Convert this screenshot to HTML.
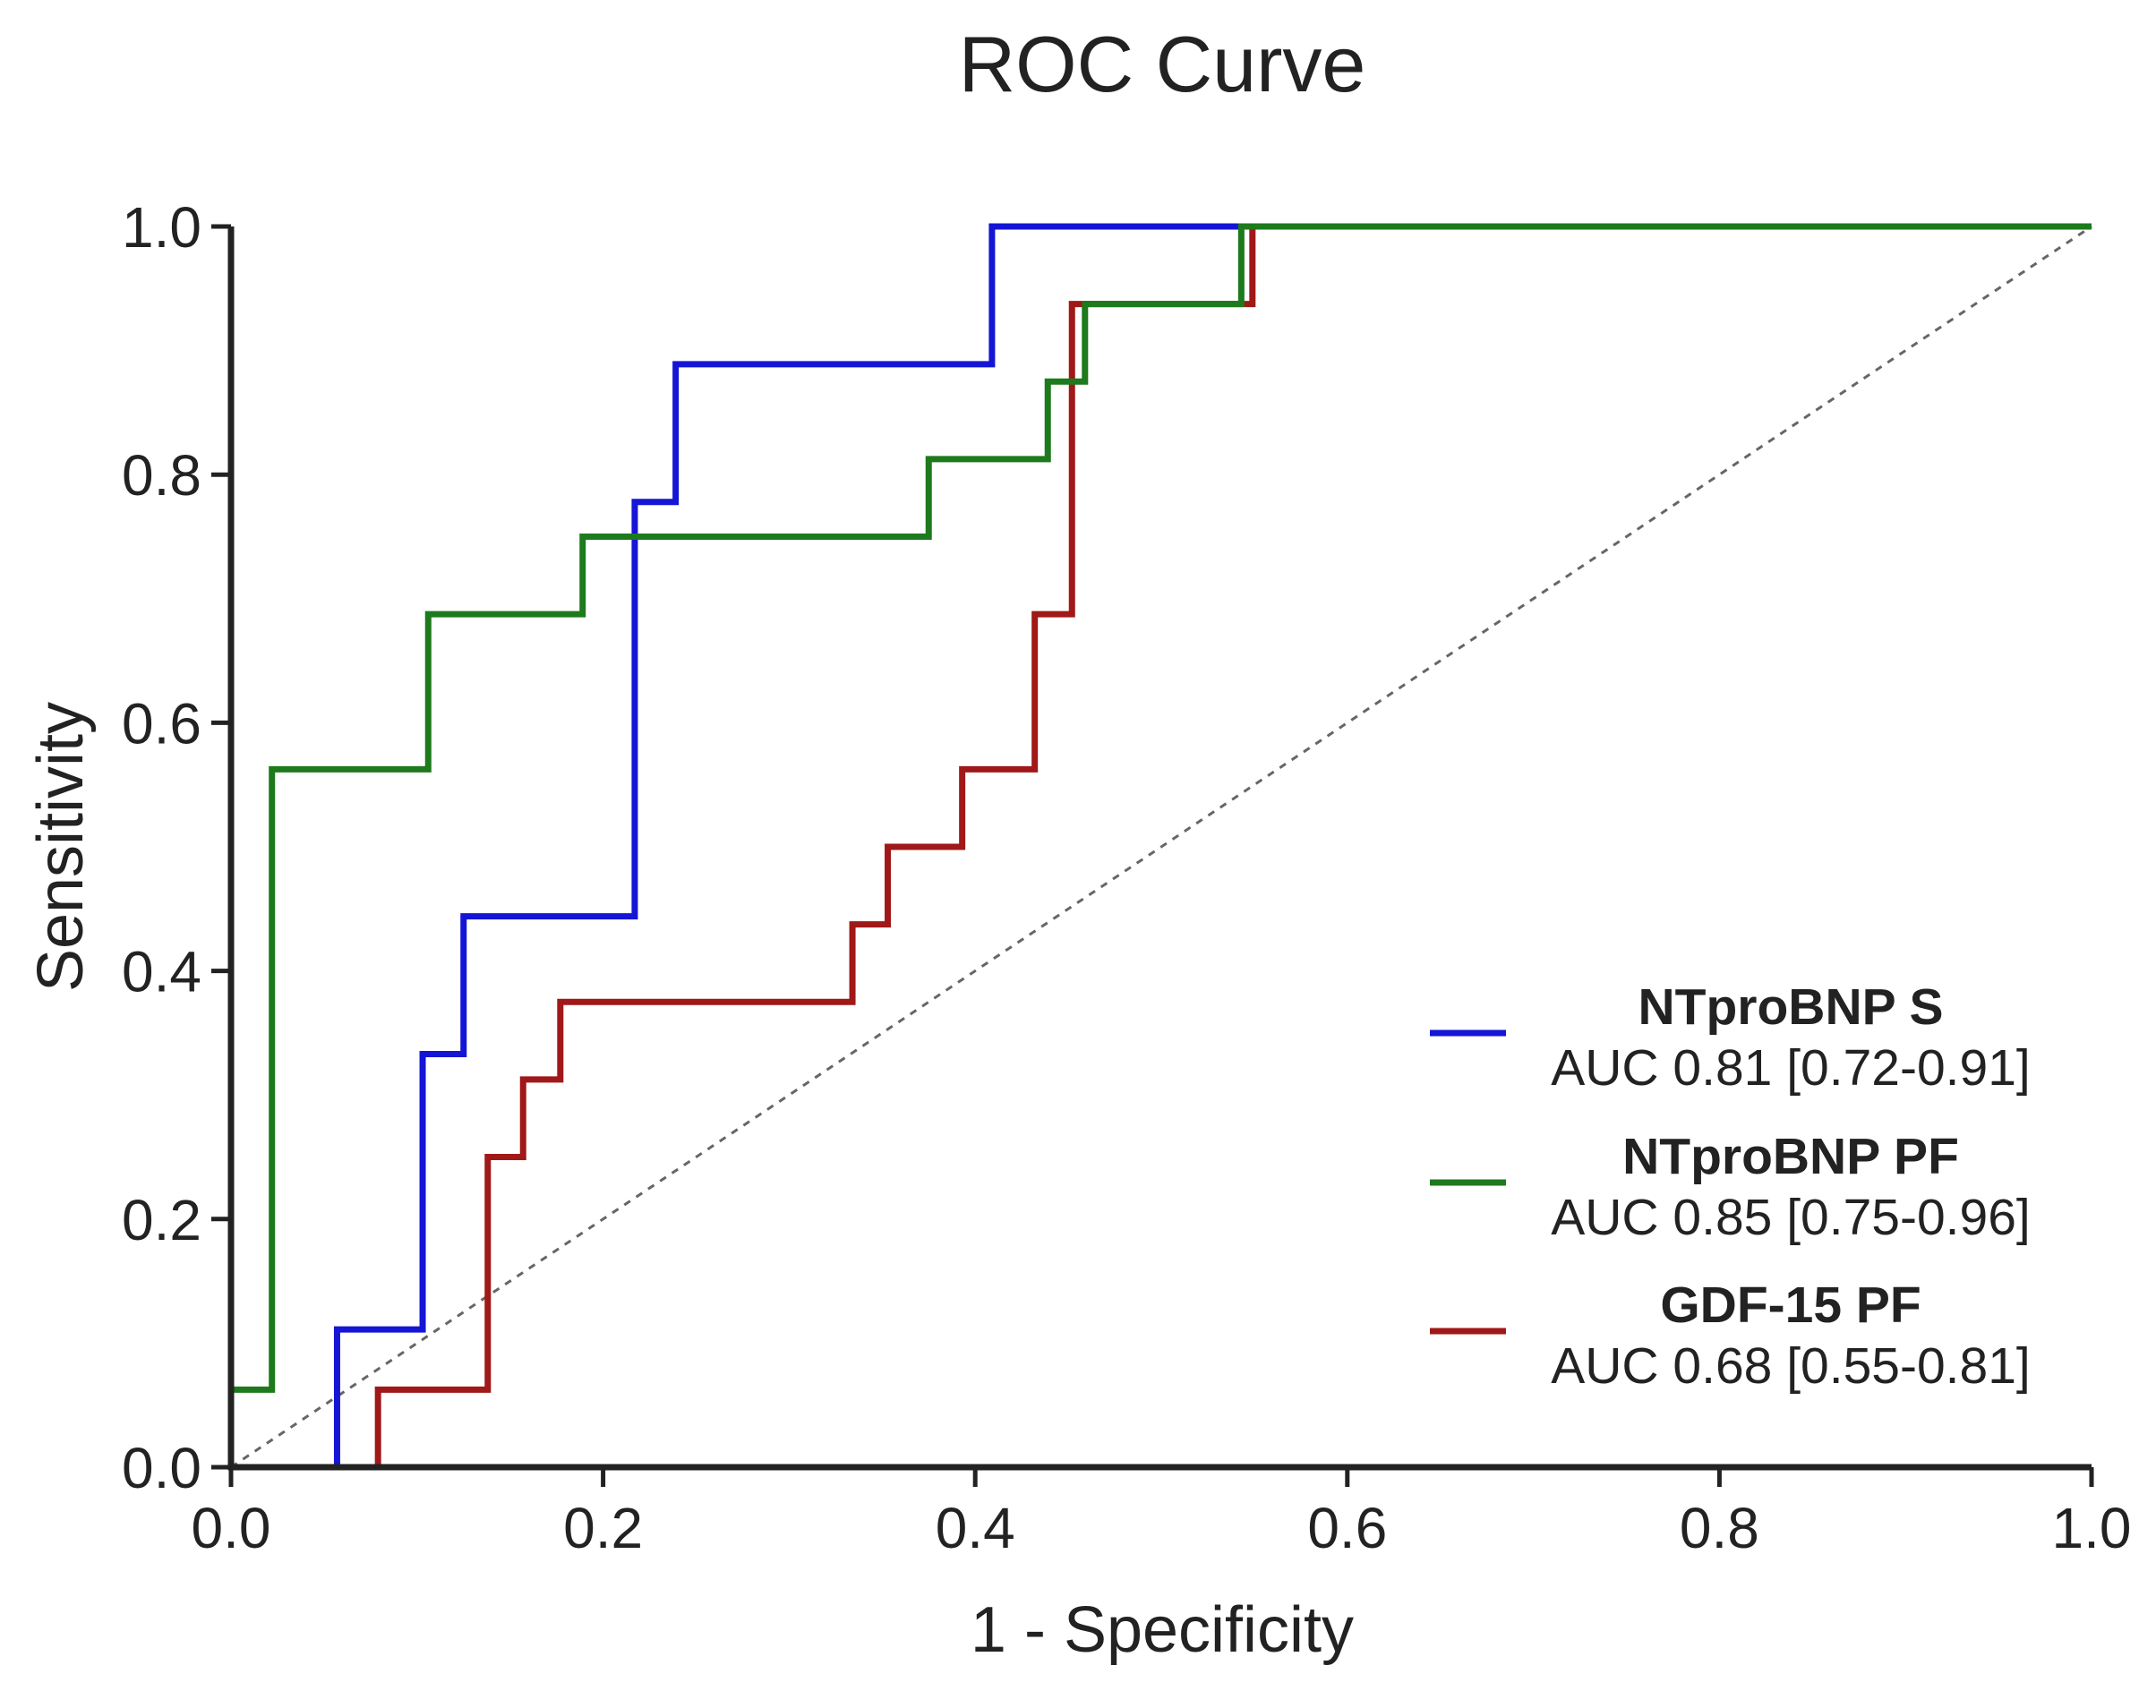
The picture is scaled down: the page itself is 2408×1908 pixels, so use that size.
<!DOCTYPE html>
<html><head><meta charset="utf-8"><style>
html,body{margin:0;padding:0;background:#fff;}
svg{display:block;font-family:"Liberation Sans",Arial,sans-serif;}
</style></head><body>
<svg id="chart" width="2408" height="1908" viewBox="0 0 2408 1908" xmlns="http://www.w3.org/2000/svg">
<rect width="2408" height="1908" fill="#fff"/>
<text x="1298" y="102" font-size="88" text-anchor="middle" fill="#222">ROC Curve</text>
<g id="plot"></g>
<text x="1298" y="1845" font-size="72" text-anchor="middle" fill="#222">1 - Specificity</text>
<text transform="translate(92,946) rotate(-90)" font-size="72" text-anchor="middle" fill="#222">Sensitivity</text>
</svg>
<script>
const xTicks = [0, 0.2, 0.4, 0.6, 0.8, 1.0];
const yTicks = [0, 0.2, 0.4, 0.6, 0.8, 1.0];
const seriesNames = ["NTproBNP S", "NTproBNP PF", "GDF-15 PF"];
const seriesAUC = ["AUC 0.81 [0.72-0.91]", "AUC 0.85 [0.75-0.96]", "AUC 0.68 [0.55-0.81]"];
const seriesColors = ["#1515d6", "#1d7a1d", "#a01818"];
const blueFpr = [0, 0.057, 0.057, 0.103, 0.103, 0.125, 0.125, 0.217, 0.217, 0.239, 0.239, 0.409, 0.409, 1];
const blueTpr = [0, 0, 0.111, 0.111, 0.333, 0.333, 0.444, 0.444, 0.778, 0.778, 0.889, 0.889, 1, 1];
const greenFpr = [0, 0, 0.022, 0.022, 0.106, 0.106, 0.189, 0.189, 0.375, 0.375, 0.439, 0.439, 0.459, 0.459, 0.543, 0.543, 1];
const greenTpr = [0, 0.0625, 0.0625, 0.5625, 0.5625, 0.6875, 0.6875, 0.75, 0.75, 0.8125, 0.8125, 0.875, 0.875, 0.9375, 0.9375, 1, 1];
const redFpr = [0.057, 0.079, 0.079, 0.138, 0.138, 0.157, 0.157, 0.177, 0.177, 0.334, 0.334, 0.353, 0.353, 0.393, 0.393, 0.432, 0.432, 0.452, 0.452, 0.549, 0.549, 1];
const redTpr = [0, 0, 0.0625, 0.0625, 0.25, 0.25, 0.3125, 0.3125, 0.375, 0.375, 0.4375, 0.4375, 0.5, 0.5, 0.5625, 0.5625, 0.6875, 0.6875, 0.9375, 0.9375, 1, 1];

const X0 = 258, X1 = 2336, Y0 = 1639, Y1 = 253;
const xs = v => X0 + v * (X1 - X0);
const ys = v => Y0 - v * (Y0 - Y1);
const NS = "http://www.w3.org/2000/svg";
const plot = document.getElementById('plot');
function mk(tag, attrs, parent) {
  const e = document.createElementNS(NS, tag);
  for (const k in attrs) e.setAttribute(k, attrs[k]);
  (parent || plot).appendChild(e);
  return e;
}
const diag = mk('line', {x1: xs(0), y1: ys(0), x2: xs(1), y2: ys(1), stroke: '#666', 'stroke-width': 3, 'stroke-dasharray': '8 8'});


const all = [[blueFpr, blueTpr], [greenFpr, greenTpr], [redFpr, redTpr]];
const order = [2, 0, 1];
order.forEach(i => {
  const [fx, ty] = all[i];
  const pts = fx.map((v, j) => xs(v) + ',' + ys(ty[j])).join(' ');
  const pl = mk('polyline', {points: pts, fill: 'none', stroke: seriesColors[i], 'stroke-width': 7});
  
  
});
const xa = mk('line', {x1: X0 - 3, y1: Y0, x2: X1, y2: Y0, stroke: '#222', 'stroke-width': 7});


const ya = mk('line', {x1: X0, y1: Y0 + 3, x2: X0, y2: Y1, stroke: '#222', 'stroke-width': 7});


xTicks.forEach(t => {
  const tk = mk('line', {x1: xs(t), y1: Y0, x2: xs(t), y2: Y0 + 22, stroke: '#222', 'stroke-width': 5});
  
  
  const tl = mk('text', {x: xs(t), y: Y0 + 90, 'font-size': 64, 'text-anchor': 'middle', fill: '#222'});
  tl.textContent = t.toFixed(1);
  
  
});
yTicks.forEach(t => {
  const tk = mk('line', {x1: X0 - 22, y1: ys(t), x2: X0, y2: ys(t), stroke: '#222', 'stroke-width': 5});
  
  
  const tl = mk('text', {x: X0 - 33, y: ys(t) + 23, 'font-size': 64, 'text-anchor': 'end', fill: '#222'});
  tl.textContent = t.toFixed(1);
  
  
});
const legY = [1124, 1291, 1457];
seriesNames.forEach((n, i) => {
  const g = mk('g', {});
  
  
  mk('line', {x1: 1597, y1: legY[i] + 30, x2: 1682, y2: legY[i] + 30, stroke: seriesColors[i], 'stroke-width': 7}, g);
  const t1 = mk('text', {x: 2000, y: legY[i] + 20, 'font-size': 57, 'font-weight': 'bold', 'text-anchor': 'middle', fill: '#222'}, g);
  t1.textContent = n;
  const t2 = mk('text', {x: 2000, y: legY[i] + 88, 'font-size': 57, 'text-anchor': 'middle', fill: '#222'}, g);
  t2.textContent = seriesAUC[i];
});
</script>
</body></html>
